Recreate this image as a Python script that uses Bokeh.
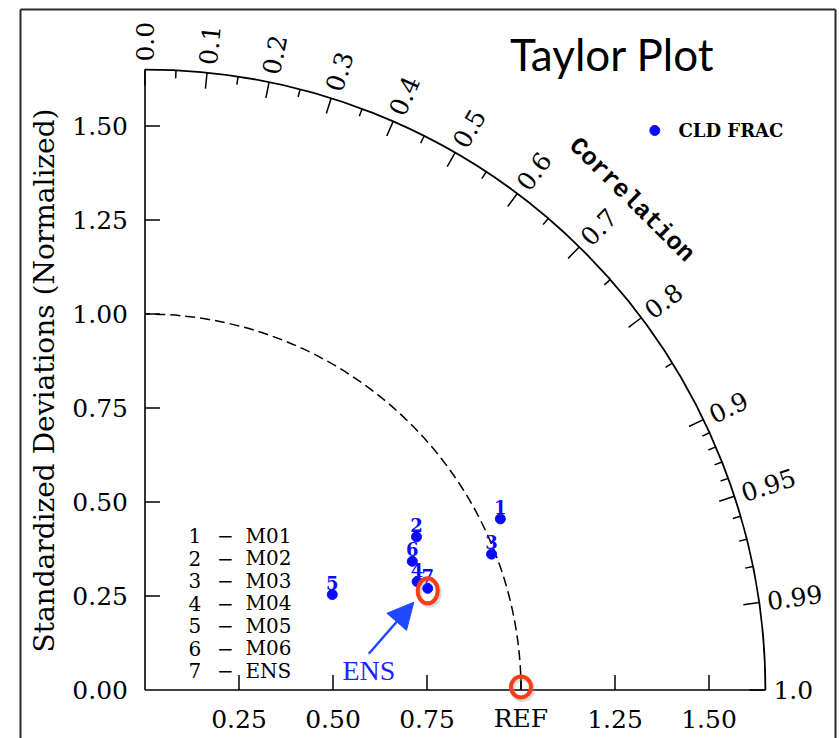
import numpy as np
from bokeh.plotting import figure
from bokeh.models import Range1d, Arrow, NormalHead
from bokeh.core.properties import value
from bokeh.embed import file_html
from bokeh.resources import INLINE

# ---------------- data ----------------
case_ids = ["1", "2", "3", "4", "5", "6", "7"]
case_names = ["M01", "M02", "M03", "M04", "M05", "M06", "ENS"]
std_ratio = [1.049, 0.829, 0.990, 0.779, 0.559, 0.789, 0.799]
correlation = [0.901, 0.871, 0.931, 0.929, 0.891, 0.901, 0.941]
variable_name = "CLD FRAC"

std_max = 1.65
y_ticks = [0.25, 0.50, 0.75, 1.00, 1.25, 1.50]
y_label_vals = [0.00, 0.25, 0.50, 0.75, 1.00, 1.25, 1.50]
y_labels = ["0.00", "0.25", "0.50", "0.75", "1.00", "1.25", "1.50"]
x_ticks = [0.25, 0.50, 0.75, 1.00, 1.25, 1.50]
x_labels = ["0.25", "0.50", "0.75", "REF", "1.25", "1.50"]
corr_major = [0.0, 0.1, 0.2, 0.3, 0.4, 0.5, 0.6, 0.7, 0.8, 0.9, 0.95, 0.99, 1.0]
corr_major_labels = ["0.0", "0.1", "0.2", "0.3", "0.4", "0.5", "0.6", "0.7",
                     "0.8", "0.9", "0.95", "0.99", "1.0"]
corr_minor = [0.05, 0.15, 0.25, 0.35, 0.45, 0.55, 0.65, 0.75, 0.85,
              0.91, 0.92, 0.93, 0.94, 0.96, 0.97, 0.98]
ref_std = 1.0

# ---------------- layout helpers ----------------
W, H = 839, 738
PAGE_X, PAGE_Y = 0, 0            # canvas offset on the page
OX, OY, S = 144.5, 689.5, 376.0   # page px of origin and px per unit
def dx(px): return (px - OX) / S
def dy(py): return (OY - py) / S

p = figure(width=W, height=H, output_backend="svg", toolbar_location=None,
           x_range=Range1d(dx(PAGE_X), dx(PAGE_X + W)),
           y_range=Range1d(dy(PAGE_Y + H), dy(PAGE_Y)),
           x_axis_location=None, y_axis_location=None, min_border=0,
           outline_line_color=None, background_fill_color="white")
p.grid.visible = False

SERIF = value("DejaVu Serif")
BLUE = "#0a0aff"
RED = "#f83c16"

# outer frame
p.segment(x0=[dx(20), dx(20), dx(835)], y0=[dy(9), dy(9), dy(9)],
          x1=[dx(20), dx(835), dx(835)], y1=[dy(760), dy(9), dy(760)],
          line_color="#2a2a2a", line_width=2)

# axes lines
p.segment(x0=[0, 0], y0=[0, 0], x1=[0, std_max], y1=[std_max, 0],
          line_color="black", line_width=1.6)
tl = 15 / S
p.segment(x0=[0] * len(y_ticks), y0=y_ticks, x1=[tl] * len(y_ticks), y1=y_ticks,
          line_color="black", line_width=1.5)
p.segment(x0=x_ticks, y0=[0] * len(x_ticks), x1=x_ticks, y1=[tl] * len(x_ticks),
          line_color="black", line_width=1.5)

p.text(x=[dx(127.5)] * len(y_label_vals), y=y_label_vals, text=y_labels,
       text_font=SERIF, text_font_size="25px", text_align="right",
       text_baseline="middle", text_color="black")
p.text(x=x_ticks, y=[dy(718)] * len(x_ticks), text=x_labels,
       text_font=SERIF, text_font_size="25px", text_align="center",
       text_baseline="middle", text_color="black")

p.text(x=[dx(44)], y=[dy(380)], text=["Standardized Deviations (Normalized)"],
       angle=np.pi / 2, text_font=SERIF, text_font_size="28px",
       text_align="center", text_baseline="middle", text_color="black")

# outer arc and reference arc
p.arc(x=[0], y=[0], radius=std_max, start_angle=0, end_angle=np.pi / 2,
      line_color="black", line_width=1.8)
p.arc(x=[0], y=[0], radius=ref_std, start_angle=0, end_angle=np.pi / 2,
      line_color="black", line_width=1.5, line_dash="10 5")

# correlation ticks
th_maj = np.arccos(np.array(corr_major))
th_min = np.arccos(np.array(corr_minor))
Lmaj, Lmin = 16 / S, 8 / S
p.segment(x0=std_max * np.cos(th_maj), y0=std_max * np.sin(th_maj),
          x1=(std_max - Lmaj) * np.cos(th_maj), y1=(std_max - Lmaj) * np.sin(th_maj),
          line_color="black", line_width=1.5)
p.segment(x0=std_max * np.cos(th_min), y0=std_max * np.sin(th_min),
          x1=(std_max - Lmin) * np.cos(th_min), y1=(std_max - Lmin) * np.sin(th_min),
          line_color="black", line_width=1.5)
rl = std_max + 8 / S
p.text(x=rl * np.cos(th_maj), y=rl * np.sin(th_maj), text=corr_major_labels,
       angle=th_maj, text_font=SERIF, text_font_size="25px",
       text_align="left", text_baseline="middle", text_color="black")

ang_c = np.deg2rad(45.2)
rc = 1.836
p.text(x=[rc * np.cos(ang_c)], y=[rc * np.sin(ang_c)], text=["Correlation"],
       angle=ang_c - np.pi / 2, text_font=value("Liberation Mono"),
       text_font_style="bold", text_font_size="25px", text_align="center",
       text_baseline="middle", text_color="black")

# title
p.text(x=[dx(611.7)], y=[dy(53)], text=["Taylor Plot"], text_font=value("Lato"),
       text_font_size="44px", text_align="center", text_baseline="middle",
       text_color="black")

# data points
r = np.array(std_ratio)
c = np.array(correlation)
px_ = r * c
py_ = r * np.sqrt(1 - c ** 2)
p.scatter(x=px_, y=py_, size=10, marker="circle", fill_color=BLUE, line_color=BLUE)
p.text(x=px_, y=py_ + 12 / S, text=case_ids, text_font=SERIF,
       text_font_style="bold", text_font_size="18px", text_align="center",
       text_baseline="middle", text_color=BLUE)

# highlight circles (ENS and REF) with soft shadow
ens_x, ens_y = px_[-1], py_[-1]
p.ellipse(x=[ens_x + 1.5 / S, ref_std + 1.5 / S], y=[ens_y - 4.5 / S, 1 / S],
          width=[20, 20], height=[25, 21], width_units="screen", height_units="screen",
          fill_color=None, line_color="#999999", line_alpha=0.35, line_width=5)
p.ellipse(x=[ens_x, ref_std], y=[ens_y - 2.5 / S, 3 / S],
          width=[20, 20], height=[25, 21], width_units="screen", height_units="screen",
          fill_color=None, line_color=RED, line_width=4)

# arrow and ENS annotation
AC = "#1f48ff"
p.add_layout(Arrow(end=NormalHead(size=26, fill_color=AC, line_color=AC),
                   x_start=dx(368.3), y_start=dy(653.3),
                   x_end=dx(413.3), y_end=dy(601.7),
                   line_color=AC, line_width=2.5))
p.text(x=[dx(342)], y=[dy(670)], text=["ENS"], text_font=value("Liberation Serif"),
       text_font_size="28px", text_align="left", text_baseline="middle",
       text_color="#2222ff")

# case legend (bottom-left)
n = len(case_ids)
ly = [dy(535 + 22.5 * i) for i in range(n)]
p.text(x=[dx(188)] * n, y=ly, text=case_ids, text_font=SERIF, text_font_size="20px",
       text_align="left", text_baseline="middle", text_color="black")
p.text(x=[dx(225)] * n, y=ly, text=["\u2212"] * n, text_font=SERIF,
       text_font_size="20px", text_align="center", text_baseline="middle",
       text_color="black")
p.text(x=[dx(245)] * n, y=ly, text=case_names, text_font=SERIF, text_font_size="20px",
       text_align="left", text_baseline="middle", text_color="black")

# variable legend (top-right)
p.scatter(x=[dx(654.3)], y=[dy(130)], size=10, marker="circle",
          fill_color=BLUE, line_color=BLUE)
p.text(x=[dx(678)], y=[dy(130)], text=[variable_name], text_font=SERIF,
       text_font_style="bold", text_font_size="18px", text_align="left",
       text_baseline="middle", text_color="black")

open("out.html", "w").write(file_html(p, INLINE))
